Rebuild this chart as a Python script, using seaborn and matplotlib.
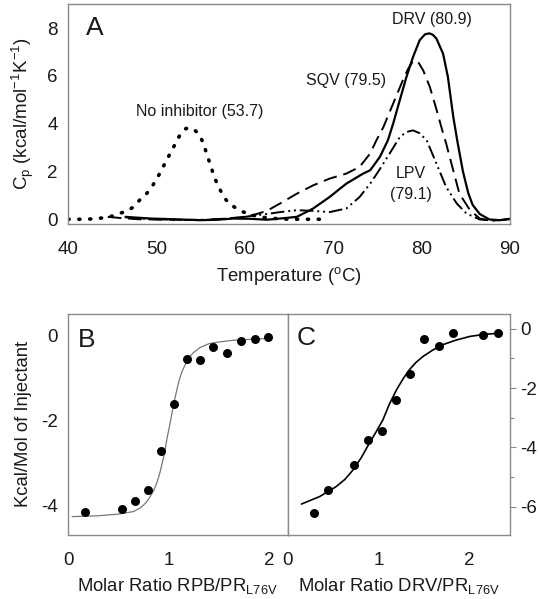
import numpy as np
import pandas as pd
import matplotlib
matplotlib.use("Agg")
import matplotlib.pyplot as plt
from matplotlib.ticker import MultipleLocator
import seaborn as sns

# ---------------- Data ----------------
# Panel A: DSC thermograms (Temperature in C, Cp in kcal/mol/K)
noinh_T = [40, 41, 42, 43, 44.3, 45.05, 45.8, 46.6, 47.4, 48.1, 48.8, 49.4, 49.95, 50.5, 51.2, 51.7, 52.2, 52.7, 53.35,
           54.1, 54.8, 55.3, 55.6, 56.0, 56.4, 56.8, 57.3, 57.8, 58.3, 59.1, 59.8, 60.8, 62, 63.5, 65, 67, 69]
noinh_cp = [0.0, 0.0, 0.0, 0.02, 0.07, 0.14, 0.24, 0.33, 0.51, 0.8, 1.03, 1.31, 1.63, 2.0, 2.5, 2.85, 3.2, 3.55, 3.8,
            3.8, 3.58, 3.2, 2.85, 2.4, 1.95, 1.55, 1.17, 0.85, 0.63, 0.45, 0.31, 0.18, 0.08, 0.03, 0.0, 0.0, 0.0]

drv_T = [46.5, 49.3, 52, 54.9, 57, 58.7, 60.5, 62.5, 64.0, 65.9, 67.75, 69.6, 71.5, 73.4, 74.2, 75.3, 76.2, 76.8, 77.55,
         78.3, 79.05, 79.8, 80.4, 80.9, 81.3, 81.7, 82.45, 83.0, 83.6, 84.1, 84.7, 85.3, 85.8, 86.6, 87.7, 88.9, 90]
drv_cp = [0.1, 0.03, 0.0, -0.04, -0.02, 0.03, 0.02, -0.02, 0.03, 0.1, 0.45, 0.93, 1.49, 1.91, 2.05, 2.61, 3.3, 4.0, 4.98,
          5.95, 6.79, 7.49, 7.74, 7.78, 7.72, 7.56, 6.93, 5.95, 4.3, 3.2, 2.0, 1.1, 0.6, 0.22, -0.01, -0.04, 0.02]

sqv_T = [44.5, 46, 48, 51, 55, 58, 59.8, 61, 62.5, 64.0, 65.9, 67.75, 69.6, 71.5, 73.0, 74.2, 74.9, 75.7, 76.8, 77.9,
         78.5, 79.05, 79.6, 80.2, 80.95, 81.7, 82.45, 82.8, 83.6, 84.3, 85.5, 86.6, 88, 90]
sqv_cp = [0.1, 0.05, 0.0, -0.02, -0.03, 0.03, 0.1, 0.18, 0.35, 0.66, 1.07, 1.42, 1.7, 1.91, 2.19, 2.75, 3.3, 3.86, 4.84,
          5.82, 6.3, 6.62, 6.6, 6.23, 5.54, 4.6, 3.6, 3.17, 2.05, 1.07, 0.38, 0.03, -0.06, 0.0]

lpv_T = [46.5, 48, 50, 53, 56, 59, 61, 62.5, 64.0, 65.9, 67.75, 69.6, 71.5, 73.0, 74.2, 75.3, 76.4, 77.55, 78.3, 79.05,
         79.8, 80.6, 81.7, 82.8, 84.0, 85.1, 86.6, 88, 90]
lpv_cp = [0.08, 0.03, 0.0, -0.03, -0.02, 0.05, 0.15, 0.22, 0.3, 0.38, 0.35, 0.3, 0.45, 0.93, 1.49, 2.1, 2.75, 3.44, 3.65,
          3.72, 3.6, 3.3, 2.33, 1.35, 0.66, 0.24, -0.01, -0.05, 0.0]

# Panel B: ITC RPB -> PR_L76V
b_ratio = [0.17, 0.54, 0.66, 0.79, 0.92, 1.05, 1.18, 1.31, 1.44, 1.58, 1.72, 1.85, 1.98]
b_heat = [-4.15, -4.08, -3.9, -3.65, -2.73, -1.62, -0.56, -0.59, -0.27, -0.41, -0.13, -0.08, -0.04]
b_fit_x = [0.04, 0.3, 0.5, 0.65, 0.72, 0.77, 0.81, 0.85, 0.88, 0.91, 0.93, 0.96, 0.98, 1.01, 1.04, 1.07, 1.1, 1.13,
           1.17, 1.2, 1.24, 1.31, 1.4, 1.5, 1.64, 1.8, 1.97]
b_fit_y = [-4.27, -4.25, -4.21, -4.15, -4.06, -3.95, -3.82, -3.65, -3.48, -3.25, -3.05, -2.75, -2.45, -2.1, -1.72,
           -1.38, -1.08, -0.86, -0.66, -0.53, -0.42, -0.29, -0.2, -0.16, -0.12, -0.1, -0.08]

# Panel C: ITC DRV -> PR_L76V
c_ratio = [0.29, 0.44, 0.73, 0.88, 1.04, 1.19, 1.35, 1.50, 1.67, 1.82, 2.15, 2.32]
c_heat = [-6.2, -5.42, -4.6, -3.75, -3.44, -2.4, -1.52, -0.33, -0.59, -0.16, -0.21, -0.16]
c_fit_x = [0.15, 0.35, 0.53, 0.63, 0.72, 0.81, 0.90, 0.98, 1.05, 1.12, 1.20, 1.27, 1.34, 1.41, 1.49, 1.6, 1.71, 1.85,
           2.01, 2.17, 2.34]
c_fit_y = [-5.91, -5.66, -5.33, -5.08, -4.76, -4.35, -3.86, -3.45, -3.07, -2.55, -2.06, -1.7, -1.39, -1.15, -0.94,
           -0.72, -0.54, -0.39, -0.26, -0.19, -0.15]

# ---------------- Style ----------------
sns.set_theme(style="white")
plt.rcParams['font.family'] = ['Liberation Sans', 'DejaVu Sans']
plt.rcParams['mathtext.fontset'] = 'custom'
plt.rcParams['mathtext.rm'] = 'Liberation Sans'
plt.rcParams['mathtext.it'] = 'Liberation Sans:italic'
plt.rcParams['mathtext.default'] = 'regular'
plt.rcParams['axes.unicode_minus'] = False

TXT = '#1a1a1a'
SP = '#8a8a8a'
TICK_FS = 13.5
LAB_FS = 13.3
ANN_FS = 11.5

fig = plt.figure(figsize=(5.40, 5.99), dpi=100)
axA = fig.add_axes([0.126, 0.626, 0.818, 0.367])
axB = fig.add_axes([0.126, 0.107, 0.407, 0.369])
axC = fig.add_axes([0.533, 0.107, 0.411, 0.369])

for ax in (axA, axB, axC):
    for s in ax.spines.values():
        s.set_color(SP)
        s.set_linewidth(1.0)
    ax.tick_params(which='both', direction='out', color=SP, labelcolor=TXT, labelsize=TICK_FS, width=0.8)
    ax.tick_params(which='major', length=4)
    ax.tick_params(which='minor', length=3)

# ---------------- Panel A ----------------
kw = dict(estimator=None, color='black', ax=axA, legend=False)
sns.lineplot(x=noinh_T, y=noinh_cp, linewidth=2.6, linestyle=(0, (0.3, 2.7)), dash_capstyle='round', **kw)
sns.lineplot(x=sqv_T, y=sqv_cp, linewidth=1.4, linestyle=(0, (7, 3.5)), **kw)
sns.lineplot(x=lpv_T, y=lpv_cp, linewidth=1.4, linestyle=(0, (7, 2, 1, 2, 1, 2)), **kw)
sns.lineplot(x=drv_T, y=drv_cp, linewidth=1.6, linestyle='-', **kw)

axA.set_xlim(40, 90)
axA.set_ylim(-0.2, 9.0)
axA.set_xticks([40, 50, 60, 70, 80, 90])
axA.set_yticks([0, 2, 4, 6, 8])
axA.tick_params(axis='x', pad=8)
axA.set_xlabel('Temperature ($^{o}$C)', fontsize=LAB_FS, color=TXT, labelpad=5)
axA.set_ylabel('$C_p$ (kcal/mol$^{-1}$K$^{-1}$)', fontsize=13.5, color=TXT, labelpad=8)

axA.text(42.0, 8.0, 'A', fontsize=19, color=TXT, va='center', ha='left')
axA.text(81.2, 8.35, 'DRV (80.9)', fontsize=ANN_FS, color=TXT, ha='center', va='center')
axA.text(71.5, 5.8, 'SQV (79.5)', fontsize=ANN_FS, color=TXT, ha='center', va='center')
axA.text(54.9, 4.5, 'No inhibitor (53.7)', fontsize=ANN_FS, color=TXT, ha='center', va='center')
axA.text(78.8, 1.9, 'LPV', fontsize=ANN_FS, color=TXT, ha='center', va='center')
axA.text(78.8, 1.05, '(79.1)', fontsize=ANN_FS, color=TXT, ha='center', va='center')

# ---------------- Panel B ----------------
sns.lineplot(x=b_fit_x, y=b_fit_y, estimator=None, color='#777777', linewidth=0.9, ax=axB, legend=False)
sns.scatterplot(x=b_ratio, y=b_heat, color='black', s=42, edgecolor='black', linewidth=0, ax=axB, legend=False, zorder=3)
axB.set_xlim(0, 2.18)
axB.set_ylim(-4.7, 0.5)
axB.set_xticks([0, 1, 2])
axB.set_yticks([0, -2, -4])
axB.xaxis.set_minor_locator(MultipleLocator(0.5))
axB.yaxis.set_minor_locator(MultipleLocator(1))
axB.tick_params(axis='x', pad=8)
axB.set_xlabel('Molar Ratio RPB/PR$_{L76V}$', fontsize=LAB_FS, color=TXT, labelpad=5)
axB.set_ylabel('Kcal/Mol of Injectant', fontsize=LAB_FS, color=TXT, labelpad=6)
axB.text(0.1, -0.12, 'B', fontsize=19, color=TXT, va='center', ha='left')

# ---------------- Panel C ----------------
sns.lineplot(x=c_fit_x, y=c_fit_y, estimator=None, color='black', linewidth=1.2, ax=axC, legend=False)
sns.scatterplot(x=c_ratio, y=c_heat, color='black', s=42, edgecolor='black', linewidth=0, ax=axC, legend=False, zorder=3)
axC.set_xlim(0, 2.45)
axC.set_ylim(-6.95, 0.5)
axC.set_xticks([0, 1, 2])
axC.set_yticks([0, -2, -4, -6])
axC.xaxis.set_minor_locator(MultipleLocator(0.5))
axC.yaxis.set_minor_locator(MultipleLocator(1))
axC.yaxis.tick_right()
axC.yaxis.set_label_position('right')
axC.tick_params(axis='x', pad=8)
axC.tick_params(axis='y', which='both', left=False, right=True)
axC.set_xlabel('Molar Ratio DRV/PR$_{L76V}$', fontsize=LAB_FS, color=TXT, labelpad=5)
axC.set_ylabel('')
axC.text(0.1, -0.3, 'C', fontsize=19, color=TXT, va='center', ha='left')

fig.savefig('out.png', dpi=100)
